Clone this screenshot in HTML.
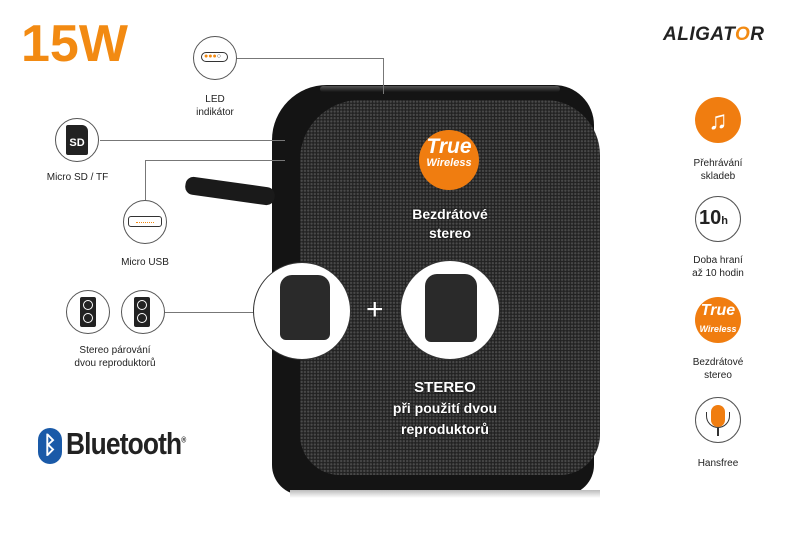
<!DOCTYPE html>
<html><head><meta charset="utf-8"><style>
body{margin:0;width:800px;height:533px;background:#fff;position:relative;overflow:hidden;font-family:"Liberation Sans",sans-serif;}
.a{position:absolute}
.t{position:absolute;font-size:10px;color:#222;text-align:center;line-height:13px}
.c{position:absolute;border:1.3px solid #555;border-radius:50%;background:#fff;box-sizing:border-box}
.ln{position:absolute;background:#777}
.grill{background-color:#222;background-image:radial-gradient(circle,#4a4a4a 0.9px,transparent 1.4px);background-size:3.3px 3.3px}
.w{position:absolute;color:#fff;font-weight:bold;text-align:center;font-size:14px;line-height:19px;text-shadow:0 0 2px #000}
.o{position:absolute;border-radius:50%;background:#f07d10}
</style></head><body>
<div class="a" style="left:21px;top:14px;font-size:52px;font-weight:bold;color:#f28a12;letter-spacing:0px">15W</div>
<div class="a" style="left:663px;top:24px;font-size:19px;font-weight:bold;font-style:italic;color:#222;letter-spacing:0.5px">ALIGAT<span style="color:#f28a12">O</span>R</div>

<!-- speaker -->
<div class="a" style="left:272px;top:85px;width:322px;height:410px;background:#141414;border-radius:55px 40px 30px 30px"></div>
<div class="a" style="left:320px;top:86px;width:240px;height:6px;background:linear-gradient(#555,#141414);border-radius:3px"></div>
<div class="a" style="left:185px;top:182px;width:90px;height:18px;background:#1a1a1a;border-radius:8px;transform:rotate(8deg)"></div>
<div class="a grill" style="left:300px;top:100px;width:300px;height:375px;border-radius:60px 55px 40px 40px"></div>
<div class="a" style="left:290px;top:490px;width:310px;height:8px;background:linear-gradient(#bbb,#fff)"></div>

<!-- lines -->
<div class="ln" style="left:237px;top:58px;width:146px;height:1px"></div>
<div class="ln" style="left:383px;top:58px;width:1px;height:36px"></div>
<div class="ln" style="left:100px;top:140px;width:185px;height:1px"></div>
<div class="ln" style="left:145px;top:160px;width:140px;height:1px"></div>
<div class="ln" style="left:145px;top:160px;width:1px;height:40px"></div>
<div class="ln" style="left:165px;top:312px;width:90px;height:1px"></div>

<!-- left icons -->
<div class="c" style="left:193px;top:36px;width:44px;height:44px"></div>
<div class="a" style="left:201px;top:52px;width:27px;height:10px;border:1.5px solid #333;border-radius:6px;box-sizing:border-box;font-size:7px;line-height:7px;color:#f28a12;padding-left:2px">●●●<span style="color:#333">○</span></div>
<div class="t" style="left:175px;top:93px;width:80px">LED<br>indikátor</div>

<div class="c" style="left:55px;top:118px;width:44px;height:44px"></div>
<div class="a" style="left:66px;top:125px;width:22px;height:30px;background:#222;border-radius:2px 6px 2px 2px;color:#fff;font-weight:bold;font-size:11px;text-align:center;line-height:36px">SD</div>
<div class="t" style="left:30px;top:171px;width:95px">Micro SD / TF</div>

<div class="c" style="left:123px;top:200px;width:44px;height:44px"></div>
<div class="a" style="left:128px;top:216px;width:34px;height:11px;border:1.5px solid #333;border-radius:3px;box-sizing:border-box"></div>
<div class="a" style="left:136px;top:218px;width:18px;height:4px;border-bottom:1px dotted #f28a12"></div>
<div class="t" style="left:105px;top:256px;width:80px">Micro USB</div>

<div class="c" style="left:66px;top:290px;width:44px;height:44px"></div>
<div class="a" style="left:80px;top:297px;width:16px;height:30px;background:#222;border-radius:2px"></div>
<div class="a" style="left:83px;top:300px;width:10px;height:10px;border-radius:50%;border:1.5px solid #fff;box-sizing:border-box"></div>
<div class="a" style="left:83px;top:313px;width:10px;height:10px;border-radius:50%;border:1.5px solid #fff;box-sizing:border-box"></div>
<div class="c" style="left:121px;top:290px;width:44px;height:44px"></div>
<div class="a" style="left:134px;top:297px;width:16px;height:30px;background:#222;border-radius:2px"></div>
<div class="a" style="left:137px;top:300px;width:10px;height:10px;border-radius:50%;border:1.5px solid #fff;box-sizing:border-box"></div>
<div class="a" style="left:137px;top:313px;width:10px;height:10px;border-radius:50%;border:1.5px solid #fff;box-sizing:border-box"></div>
<div class="t" style="left:50px;top:344px;width:130px">Stereo párování<br>dvou reproduktorů</div>

<!-- bluetooth -->
<div class="a" style="left:38px;top:428px;width:24px;height:36px;background:#1a5aa8;border-radius:12px;color:#fff;font-size:24px;text-align:center;line-height:36px;font-weight:bold">ᛒ</div>
<div class="a" style="left:66px;top:426px;font-size:31px;font-weight:bold;color:#222;letter-spacing:-1px;transform:scaleX(0.85);transform-origin:left">Bluetooth<sup style="font-size:8px">®</sup></div>

<!-- speaker contents -->
<div class="o" style="left:419px;top:130px;width:60px;height:60px"></div>
<div class="a" style="left:419px;top:136px;width:60px;text-align:center;color:#fff;font-weight:bold;font-style:italic;font-size:21px;line-height:22px">True<br><span style="font-size:11px;line-height:10px;display:block">Wireless</span></div>
<div class="w" style="left:360px;top:205px;width:180px">Bezdrátové<br>stereo</div>

<div class="c" style="left:253px;top:262px;width:98px;height:98px;border-color:#333"></div>
<div class="a" style="left:280px;top:275px;width:50px;height:65px;background:#2a2a2a;border-radius:12px 12px 6px 6px"></div>
<div class="c" style="left:400px;top:260px;width:100px;height:100px;border-color:#333"></div>
<div class="a" style="left:425px;top:274px;width:52px;height:68px;background:#2a2a2a;border-radius:12px 12px 6px 6px"></div>
<div class="a" style="left:366px;top:298px;color:#fff;font-size:30px;font-weight:100;line-height:24px">+</div>

<div class="w" style="left:345px;top:378px;width:200px;font-size:15px;line-height:20px">STEREO<br><span style="font-size:14px">při použití dvou<br>reproduktorů</span></div>

<!-- right icons -->
<div class="o" style="left:695px;top:97px;width:46px;height:46px"></div>
<div class="a" style="left:695px;top:103px;width:46px;text-align:center;color:#fff;font-size:26px;line-height:34px">♫</div>
<div class="t" style="left:670px;top:157px;width:96px">Přehrávání<br>skladeb</div>

<div class="c" style="left:695px;top:196px;width:46px;height:46px"></div>
<div class="a" style="left:699px;top:207px;font-size:20px;font-weight:bold;color:#222">10<span style="font-size:11px">h</span></div>
<div class="t" style="left:670px;top:254px;width:96px">Doba hraní<br>až 10 hodin</div>

<div class="o" style="left:695px;top:297px;width:46px;height:46px"></div>
<div class="a" style="left:695px;top:302px;width:46px;text-align:center;color:#fff;font-weight:bold;font-style:italic;font-size:16px;line-height:17px">True<br><span style="font-size:9px">Wireless</span></div>
<div class="t" style="left:670px;top:356px;width:96px">Bezdrátové<br>stereo</div>

<div class="c" style="left:695px;top:397px;width:46px;height:46px"></div>
<div class="a" style="left:711px;top:405px;width:14px;height:22px;background:#f07d10;border-radius:7px"></div>
<div class="a" style="left:706px;top:412px;width:24px;height:16px;border:1.5px solid #333;border-top:none;border-radius:0 0 12px 12px;box-sizing:border-box"></div>
<div class="a" style="left:717px;top:428px;width:2px;height:8px;background:#333"></div>
<div class="t" style="left:670px;top:457px;width:96px">Hansfree</div>
</body></html>
